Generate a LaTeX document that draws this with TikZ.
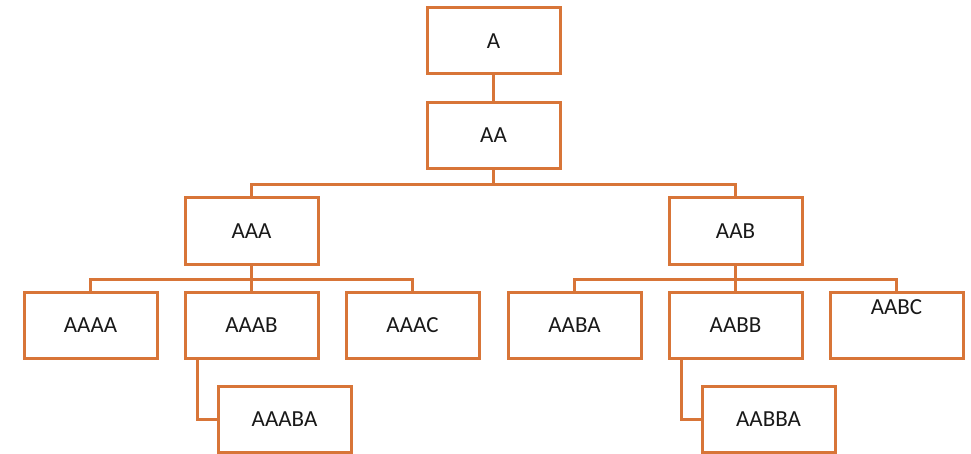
\documentclass[tikz,border=0pt]{standalone}
\usepackage{fontspec}
\setmainfont{Carlito}
\definecolor{org}{RGB}{216,117,56}
\begin{document}
\begin{tikzpicture}[x=1pt,y=-1pt,
  lbl/.style={font=\fontsize{23}{27}\selectfont,text=black!90},
  box/.style={draw=org,line width=3pt,minimum width=133pt,minimum height=66pt,inner sep=0pt,fill=white,lbl},
  conn/.style={draw=org,line width=3pt}]
\useasboundingbox (0,0) rectangle (971,454);
\node[box] (a) at (493.5,41) {A};
\node[box] (aa) at (493.5,135.5) {AA};
\node[box] (aaa) at (251.5,231) {AAA};
\node[box] (aab) at (735.5,231) {AAB};
\node[box] (aaaa) at (90.5,325) {AAAA};
\node[box] (aaab) at (251.5,325) {AAAB};
\node[box] (aaac) at (412.5,325) {AAAC};
\node[box] (aaba) at (574.5,325) {AABA};
\node[box] (aabb) at (735.5,325) {AABB};
\node[box] (aabc) at (896.5,325) {};
\node[lbl,inner sep=0pt] (aabct) at (896.5,307) {AABC};
\node[box] (aaaba) at (284.5,419.5) {AAABA};
\node[box] (aabba) at (768.5,419.5) {AABBA};
\draw[conn] (a) -- (aa);
\draw[conn] (aa.south) -- ++(0,15) -| (aaa.north);
\draw[conn] (aa.south) ++(0,15) -| (aab.north);
\draw[conn] (aaa.south) -- ++(0,14) -| (aaaa.north);
\draw[conn] (aaa.south) ++(0,14) -| (aaac.north);
\draw[conn] (aaa.south) -- (aaab.north);
\draw[conn] (aab.south) -- ++(0,14) -| (aaba.north);
\draw[conn] (aab.south) ++(0,14) -| (aabc.north);
\draw[conn] (aab.south) -- (aabb.north);
\draw[conn] (aaab.south west) ++(14,0) |- (aaaba.west);
\draw[conn] (aabb.south west) ++(14,0) |- (aabba.west);
\end{tikzpicture}
\end{document}
